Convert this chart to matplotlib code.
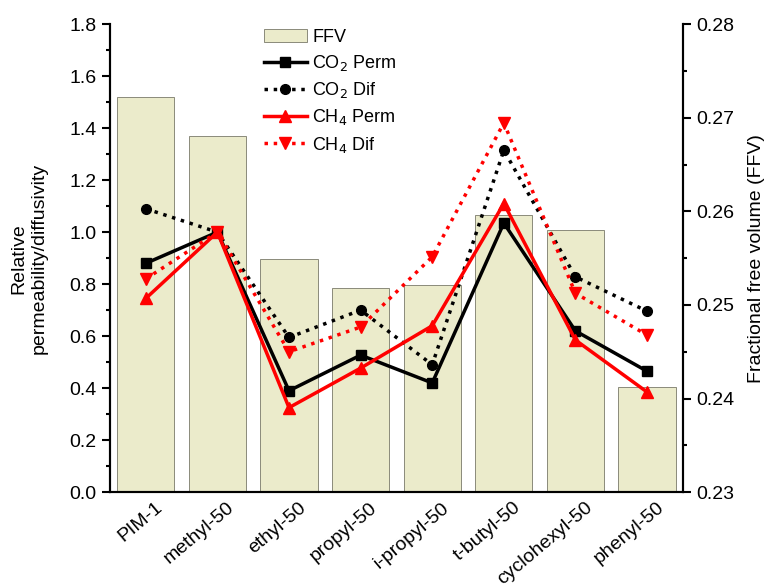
import numpy as np
import matplotlib
matplotlib.use("Agg")
import matplotlib.pyplot as plt
import matplotlib.transforms as mtransforms

plt.rcParams['font.family'] = ['Liberation Sans', 'DejaVu Sans']
plt.rcParams['font.size'] = 14

labels = ['PIM-1', 'methyl-50', 'ethyl-50', 'propyl-50', 'i-propyl-50',
          't-butyl-50', 'cyclohexyl-50', 'phenyl-50']
ffv = [0.2722, 0.2680, 0.2549, 0.2518, 0.2521, 0.2596, 0.2580, 0.2412]
co2_perm = [0.88, 1.0, 0.39, 0.527, 0.42, 1.035, 0.62, 0.465]
co2_dif = [1.09, 1.0, 0.595, 0.70, 0.49, 1.315, 0.828, 0.696]
ch4_perm = [0.745, 1.0, 0.325, 0.477, 0.64, 1.11, 0.585, 0.385]
ch4_dif = [0.82, 1.0, 0.54, 0.635, 0.905, 1.42, 0.765, 0.604]

x = np.arange(len(labels))

fig = plt.figure(figsize=(7.69, 5.88), dpi=100)
ax = fig.add_axes([0.143, 0.163, 0.745, 0.796])
ax2 = ax.twinx()

bars = ax2.bar(x, np.array(ffv) - 0.23, width=0.8, bottom=0.23, color='#ebebcb',
               edgecolor='#7a7a6a', linewidth=0.6, label='FFV')
ax2.set_ylim(0.23, 0.28)
ax2.set_yticks([0.23, 0.24, 0.25, 0.26, 0.27, 0.28])
ax2.set_yticklabels(['0.23', '0.24', '0.25', '0.26', '0.27', '0.28'])
ax2.set_yticks(np.arange(0.235, 0.28, 0.01), minor=True)
ax2.set_ylabel('Fractional free volume (FFV)', labelpad=10)

ax.set_zorder(ax2.get_zorder() + 1)
ax.patch.set_visible(False)

l1, = ax.plot(x, co2_perm, '-', color='black', lw=2.5, marker='s', ms=7, label='CO$_2$ Perm')
l2, = ax.plot(x, co2_dif, ':', color='black', lw=2.5, marker='o', ms=7, label='CO$_2$ Dif')
l3, = ax.plot(x, ch4_perm, '-', color='red', lw=2.5, marker='^', ms=8, label='CH$_4$ Perm')
l4, = ax.plot(x, ch4_dif, ':', color='red', lw=2.5, marker='v', ms=8, label='CH$_4$ Dif')

ax.set_xlim(-0.5, 7.5)
ax.set_ylim(0, 1.8)
ax.set_yticks(np.arange(0, 1.81, 0.2))
ax.set_yticklabels(['%.1f' % v for v in np.arange(0, 1.81, 0.2)])
ax.set_yticks(np.arange(0.1, 1.8, 0.2), minor=True)
ax.set_xticks(x)
ax.set_xticklabels(labels, rotation=40, ha='right', rotation_mode='anchor')
ax.tick_params(axis='x', length=0, pad=5)
offset = mtransforms.ScaledTranslation(9 / 100, 0, fig.dpi_scale_trans)
for lab in ax.get_xticklabels():
    lab.set_transform(lab.get_transform() + offset)
ax.set_ylabel('Relative\npermeability/diffusivity', labelpad=16)

for a in (ax, ax2):
    a.spines['top'].set_visible(False)
    for s in a.spines.values():
        s.set_linewidth(1.5)
    a.tick_params(axis='y', which='major', length=6, width=1.5)
    a.tick_params(axis='y', which='minor', length=3, width=1.5)

ax.legend([bars, l1, l2, l3, l4], ['FFV', 'CO$_2$ Perm', 'CO$_2$ Dif', 'CH$_4$ Perm', 'CH$_4$ Dif'],
          loc='upper left', bbox_to_anchor=(0.24, 1.025), frameon=False,
          fontsize=13, handlelength=2.4, labelspacing=0.4, handletextpad=0.3)

fig.savefig('out.png', dpi=100)
